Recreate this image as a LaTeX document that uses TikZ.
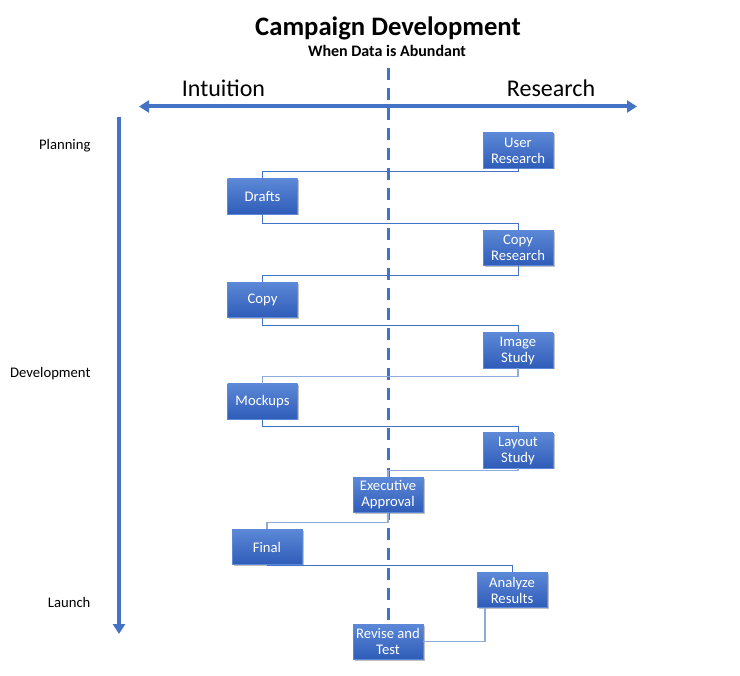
\documentclass[tikz,border=0pt]{standalone}
\usepackage{fontspec}
\setmainfont{Carlito}
\usetikzlibrary{arrows.meta,shadows}
\definecolor{accent}{HTML}{4472C4}
\definecolor{boxtop}{HTML}{5C88D7}
\definecolor{boxbot}{HTML}{2F5CB8}
\definecolor{lightline}{HTML}{8FAADC}
\begin{document}
\begin{tikzpicture}[x=1pt,y=-1pt,
  stepbox/.style={minimum width=70pt, minimum height=35pt, inner sep=1pt,
    top color=boxtop, bottom color=boxbot, draw=boxtop, line width=0.4pt,
    text=white, align=center, font=\fontsize{14.67}{16}\selectfont,
    drop shadow={shadow xshift=1.5pt, shadow yshift=-1.5pt, opacity=0.35, fill=black!70}},
  conn/.style={draw=accent, line width=1pt},
  connlight/.style={draw=lightline, line width=1.3pt},
  axis/.style={draw=accent, line width=4pt, -{Triangle[length=10pt,width=12pt]}},
  sidelabel/.style={anchor=east, font=\fontsize{14.67}{16}\selectfont},
  headlabel/.style={anchor=base, font=\fontsize{24}{28}\selectfont}]
\useasboundingbox (0,0) rectangle (740,676);

% titles
\node[anchor=base, font=\bfseries\fontsize{26.67}{30}\selectfont] (title) at (388,36) {Campaign Development};
\node[anchor=base, font=\bfseries\fontsize{16}{18}\selectfont] (subtitle) at (387,57) {When Data is Abundant};
\node[headlabel] (intu) at (223.5,97) {Intuition};
\node[headlabel] (res) at (551,97) {Research};

% dashed centre line
\coordinate (dtop) at (388,68);
\coordinate (dbot) at (388,666);
\draw[accent, line width=3pt, dash pattern=on 12pt off 8pt] (dtop) -- (dbot);

% horizontal axis
\coordinate (hl) at (139,106.5);
\coordinate (hr) at (637,106.5);
\draw[axis, {Triangle[length=10pt,width=12pt]}-{Triangle[length=10pt,width=12pt]}] (hl) -- (hr);

% vertical axis
\coordinate (vt) at (119,117);
\coordinate (vb) at (119,634);
\draw[axis] (vt) -- (vb);

% phase labels
\node[sidelabel] (plan) at (94,146) {Planning};
\node[sidelabel] (dev) at (94,374) {Development};
\node[sidelabel] (lau) at (94,602) {Launch};

% boxes
\node[stepbox] (ur) at (518,150.5) {User\\Research};
\node[stepbox] (dr) at (262.5,196.5) {Drafts};
\node[stepbox] (cr) at (518,248) {Copy\\Research};
\node[stepbox] (cp) at (262.5,300) {Copy};
\node[stepbox] (is) at (518,350.5) {Image\\Study};
\node[stepbox] (mk) at (262.5,401.5) {Mockups};
\node[stepbox] (ls) at (518,450.5) {Layout\\Study};
\node[stepbox] (ea) at (388,495) {Executive\\Approval};
\node[stepbox] (fn) at (267,547) {Final};
\node[stepbox] (ar) at (512,590) {Analyze\\Results};
\node[stepbox] (rt) at (388,641.5) {Revise and\\Test};

% connectors
\draw[conn] (ur.south) -- ++(0,3.5) -| (dr.north);
\draw[conn] (dr.south) -- ++(0,9.5) -| (cr.north);
\draw[conn] (cr.south) -- ++(0,9.5) -| (cp.north);
\draw[conn] (cp.south) -- ++(0,8) -| (is.north);
\draw[connlight] (is.south) -- ++(0,8.5) -| (mk.north);
\draw[conn] (mk.south) -- ++(0,7.5) -| (ls.north);
\draw[connlight] (ls.south) -- ++(0,2.5) -| (ea.north);
\draw[connlight] (ea.south) -- ++(0,9.5) -| (fn.north);
\draw[conn] (fn.south) -- ++(0,1) -| (ar.north);
\draw[connlight] ([xshift=-27pt]ar.south) |- (rt.east);
\end{tikzpicture}
\end{document}
